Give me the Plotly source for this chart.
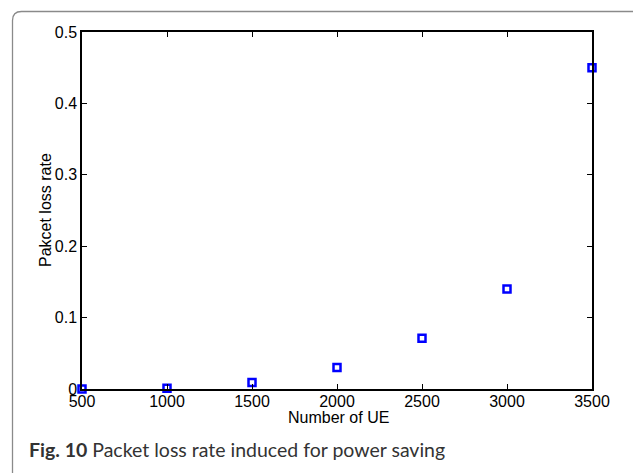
import plotly.graph_objects as go

# Packet loss vs. number of UEs
num_ue = [500, 1000, 1500, 2000, 2500, 3000, 3500]
loss_rate = [0.0, 0.001, 0.009, 0.030, 0.071, 0.140, 0.450]

x_ticks = [500, 1000, 1500, 2000, 2500, 3000, 3500]
y_ticks = [0, 0.1, 0.2, 0.3, 0.4, 0.5]
y_tick_text = ["0", "0.1", "0.2", "0.3", "0.4", "0.5"]

W, H = 633, 473
L, R, T, B = 82, 41, 32, 84
pw, ph = W - L - R, H - T - B


def px_to_paper(px, py):
    """Pixel position on the page -> paper coordinates."""
    return (px - L) / pw, (H - B - py) / ph


fig = go.Figure()
fig.add_trace(go.Scatter(
    x=num_ue, y=loss_rate, mode="markers",
    marker=dict(symbol="square-open", size=7, color="#0000ff",
                line=dict(width=2.5, color="#0000ff")),
    cliponaxis=False, showlegend=False,
))

axis_font = dict(family="Liberation Sans", size=16, color="#000")

fig.update_xaxes(
    range=[500, 3500], tickvals=x_ticks, ticks="inside", ticklen=5,
    tickcolor="#000", showline=True, linecolor="#000", linewidth=1.5,
    mirror="ticks", showgrid=False, zeroline=False, tickfont=axis_font,
    ticklabelstandoff=-3,
)
fig.update_yaxes(
    range=[0, 0.5], tickvals=y_ticks, ticktext=y_tick_text, ticks="inside",
    ticklen=5, tickcolor="#000", showline=True, linecolor="#000",
    linewidth=1.5, mirror="ticks", showgrid=False, zeroline=False,
    tickfont=axis_font,
)

# Axis titles
fig.add_annotation(
    x=px_to_paper(338, 0)[0], y=px_to_paper(0, 417)[1],
    xref="paper", yref="paper", xanchor="center", yanchor="middle",
    showarrow=False, text="Number of UE", font=axis_font,
)
fig.add_annotation(
    x=px_to_paper(45, 0)[0], y=px_to_paper(0, 210)[1],
    xref="paper", yref="paper", xanchor="center", yanchor="middle",
    showarrow=False, text="Pakcet loss rate", font=axis_font, textangle=-90,
)

# Rounded frame around the figure (top and left edges visible)
r = 9
x0, y0 = 12.5, 11.5
frame_px = [("M", x0, H + 5), ("L", x0, y0 + r), ("Q", x0, y0), ("", x0 + r, y0),
            ("L", W + 5, y0)]
parts = []
for cmd, a, b in frame_px:
    u, v = px_to_paper(a, b)
    parts.append(f"{cmd} {u:.5f},{v:.5f}".strip())
fig.add_shape(type="path", path=" ".join(parts), xref="paper", yref="paper",
              line=dict(color="#8a8a8a", width=1.3), layer="below")

# Caption
fig.add_annotation(
    x=px_to_paper(27, 0)[0], y=px_to_paper(0, 449)[1], xref="paper", yref="paper",
    xanchor="left", yanchor="middle", showarrow=False,
    text="<b>Fig. 10</b> Packet loss rate induced for power saving",
    font=dict(family="Lato", size=19.5, color="#333"),
)

fig.update_layout(
    width=W, height=H, margin=dict(l=L, r=R, t=T, b=B),
    paper_bgcolor="#fff", plot_bgcolor="#fff",
)

fig.write_html("out.html")
